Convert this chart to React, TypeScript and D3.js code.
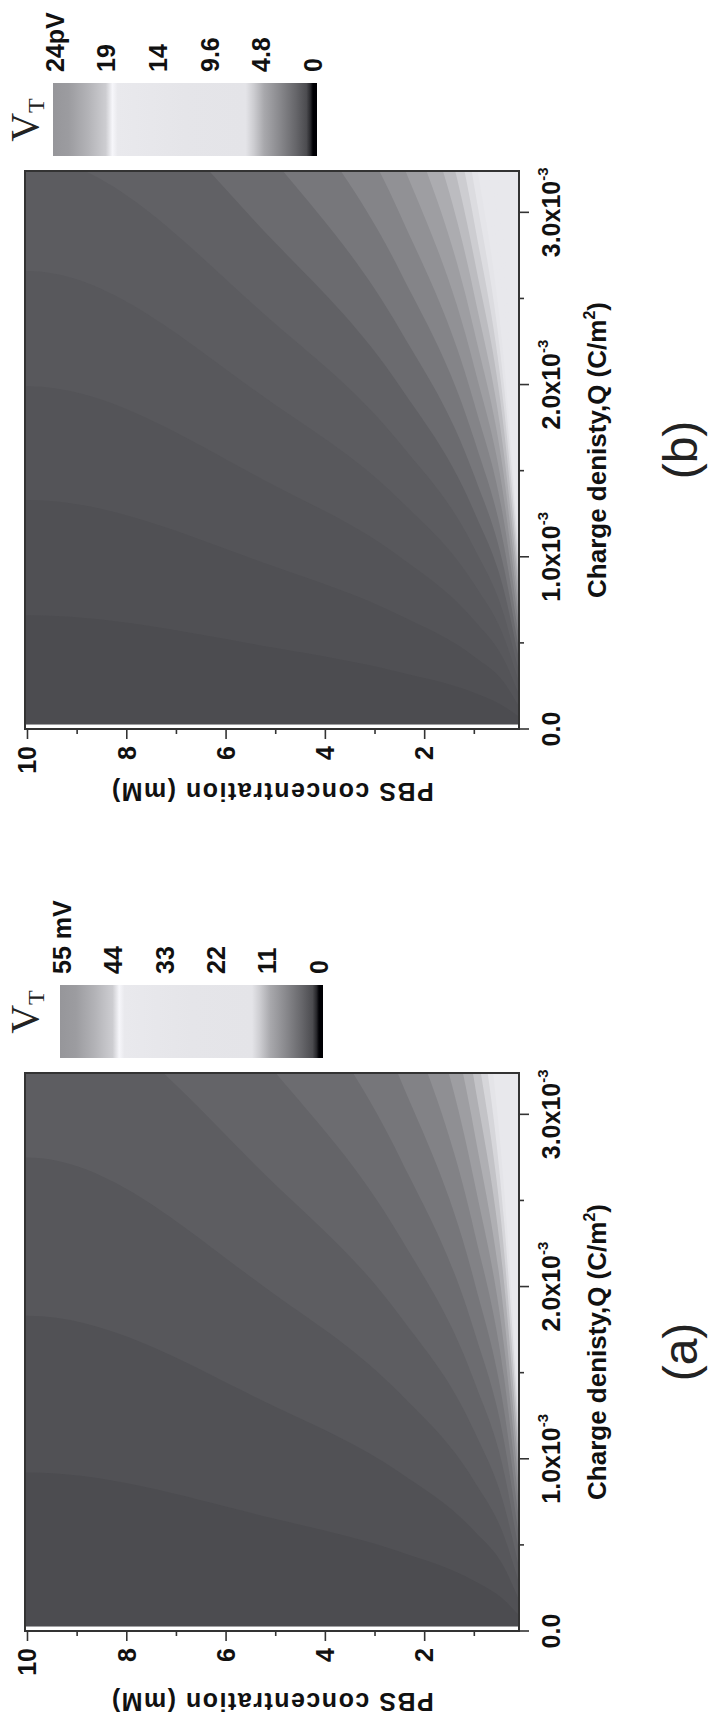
import * as d3 from "d3";

const pbsSamples = [0.1, 0.4, 1, 2.5, 5, 10];

// panel (a): charge density (x1e-3 C/m2) of each contour boundary at pbsSamples
const boundariesA = [
  [0.09, 0.18, 0.29, 0.46, 0.65, 0.92],
  [0.18, 0.37, 0.58, 0.92, 1.3, 1.83],
  [0.28, 0.55, 0.87, 1.38, 1.95, 2.75],
  [0.37, 0.73, 1.16, 1.83, 2.59, 3.67],
  [0.46, 0.92, 1.45, 2.29, 3.24, 4.59],
  [0.55, 1.1, 1.74, 2.75, 3.89, 5.5],
  [0.64, 1.28, 2.03, 3.21, 4.54, 6.42],
  [0.73, 1.47, 2.32, 3.67, 5.19, 7.34],
  [0.83, 1.65, 2.61, 4.13, 5.84, 8.25],
  [0.92, 1.83, 2.9, 4.59, 6.49, 9.17],
  [1.01, 2.02, 3.19, 5.04, 7.13, 10.09],
  [1.1, 2.2, 3.48, 5.5, 7.78, 11.0],
  [1.19, 2.38, 3.77, 5.96, 8.43, 11.92],
  [1.28, 2.57, 4.06, 6.42, 9.08, 12.84],
  [1.38, 2.75, 4.35, 6.88, 9.73, 13.76],
];

// panel (b): same reading, tighter contour spacing
const boundariesB = [
  [0.07, 0.13, 0.21, 0.33, 0.47, 0.66],
  [0.13, 0.27, 0.42, 0.66, 0.94, 1.33],
  [0.2, 0.4, 0.63, 1.0, 1.41, 1.99],
  [0.27, 0.53, 0.84, 1.33, 1.88, 2.66],
  [0.33, 0.66, 1.05, 1.66, 2.35, 3.32],
  [0.4, 0.8, 1.26, 1.99, 2.82, 3.98],
  [0.46, 0.93, 1.47, 2.32, 3.29, 4.65],
  [0.53, 1.06, 1.68, 2.66, 3.76, 5.31],
  [0.6, 1.2, 1.89, 2.99, 4.23, 5.98],
  [0.66, 1.33, 2.1, 3.32, 4.7, 6.64],
  [0.73, 1.46, 2.31, 3.65, 5.17, 7.31],
  [0.8, 1.59, 2.52, 3.98, 5.64, 7.97],
  [0.86, 1.73, 2.73, 4.32, 6.1, 8.63],
  [0.93, 1.86, 2.94, 4.65, 6.57, 9.3],
  [1.0, 1.99, 3.15, 4.98, 7.04, 9.96],
  [1.06, 2.13, 3.36, 5.31, 7.51, 10.63],
  [1.13, 2.26, 3.57, 5.64, 7.98, 11.29],
  [1.2, 2.39, 3.78, 5.98, 8.45, 11.95],
  [1.26, 2.52, 3.99, 6.31, 8.92, 12.62],
  [1.33, 2.66, 4.2, 6.64, 9.39, 13.28],
  [1.4, 2.79, 4.41, 6.97, 9.86, 13.95],
];

const xTicks = [0, 1, 2, 3];
const xMinorTicks = [0.5, 1.5, 2.5];
const yTicks = [2, 4, 6, 8, 10];
const yMinorTicks = [1, 3, 5, 7, 9];

const colorbarTicksA = [55, 44, 33, 22, 11, 0];
const colorbarLabelsA = ["55 mV", "44", "33", "22", "11", "0"];
const colorbarTicksB = [24, 19.2, 14.4, 9.6, 4.8, 0];
const colorbarLabelsB = ["24pV", "19", "14", "9.6", "4.8", "0"];

// grey level of each filled band, darkest first
const graysA = [76, 81, 87, 93, 100, 108, 118, 130, 143, 158, 175, 195, 214, 228, 232, 232];
const graysB = [76, 80, 84, 88, 92, 97, 107, 119, 132, 145, 158, 172, 188, 205, 220, 229, 232, 232, 232, 232, 232, 232];

// colorbar gradient, top to bottom
const cbStops: [number, number][] = [
  [0, 150], [0.06, 156], [0.13, 178], [0.2, 205], [0.225, 246], [0.245, 233],
  [0.5, 229], [0.73, 228], [0.76, 205], [0.8, 168], [0.86, 136], [0.92, 102],
  [0.96, 76], [0.975, 40], [0.985, 0], [1, 0],
];

const FW = 1724; // landscape figure, rotated onto the page
const FH = 715;
const PLOT_TOP = 25;
const PLOT_BOTTOM = 519;
const PLOT_W = 558;
const Q_MAX = 3.24;
const SANS = "'Liberation Sans', Arial, sans-serif";
const SERIF = "'Liberation Serif', 'Times New Roman', serif";
const INK = "#333";

const grey = (g: number) => `rgb(${g},${g},${Math.min(255, g + 4)})`;

interface PanelProps {
  id: string;
  x0: number;
  boundaries: number[][];
  grays: number[];
  cbX: number;
  cbY: number;
  cbH: number;
  cbTicks: number[];
  cbLabels: string[];
  vtX: number;
  yTitleOffset: number;
  label: string;
}

function Panel(p: PanelProps) {
  const x = d3.scaleLinear().domain([0, Q_MAX]).range([p.x0, p.x0 + PLOT_W]);
  const y = d3.scaleLinear().domain([0.1, 10.05]).range([PLOT_BOTTOM, PLOT_TOP]);

  const area = d3
    .area<[number, number]>()
    .curve(d3.curveMonotoneY)
    .y((d) => y(d[0]))
    .x0((d) => x(d[1]))
    .x1(x(Q_MAX) + 30);

  const cbW = 73;
  const cbScale = d3
    .scaleLinear()
    .domain([0, p.cbTicks[0]])
    .range([p.cbY + p.cbH - 4, p.cbY + 2]);

  const fillLeft = x(0.025);
  const cx = (x(0) + x(Q_MAX)) / 2;

  return (
    <g>
      <defs>
        <clipPath id={`clip-${p.id}`}>
          <rect x={fillLeft} y={PLOT_TOP} width={x(Q_MAX) - fillLeft} height={PLOT_BOTTOM - PLOT_TOP} />
        </clipPath>
        <linearGradient id={`cb-${p.id}`} x1="0" y1="0" x2="0" y2="1">
          {cbStops.map(([o, g], i) => (
            <stop key={i} offset={o} stopColor={grey(g)} />
          ))}
        </linearGradient>
      </defs>

      {/* contour bands */}
      <g clipPath={`url(#clip-${p.id})`}>
        <rect x={fillLeft} y={PLOT_TOP} width={x(Q_MAX) - fillLeft} height={PLOT_BOTTOM - PLOT_TOP} fill={grey(p.grays[0])} />
        {p.boundaries.map((b, i) => {
          const pts: [number, number][] = pbsSamples.map((c, j) => [c, b[j]]);
          pts.push([10.06, b[b.length - 1]]);
          return <path key={i} d={area(pts) || ""} fill={grey(p.grays[i + 1])} />;
        })}
      </g>

      {/* frame */}
      <rect x={x(0)} y={PLOT_TOP} width={PLOT_W} height={PLOT_BOTTOM - PLOT_TOP} fill="none" stroke={INK} strokeWidth={2} />

      {/* x axis */}
      {xTicks.map((t) => (
        <line key={`xt${t}`} x1={x(t)} x2={x(t)} y1={PLOT_BOTTOM} y2={PLOT_BOTTOM + 10} stroke={INK} strokeWidth={1.6} />
      ))}
      {xMinorTicks.map((t) => (
        <line key={`xm${t}`} x1={x(t)} x2={x(t)} y1={PLOT_BOTTOM} y2={PLOT_BOTTOM + 5} stroke={INK} strokeWidth={1.6} />
      ))}
      {xTicks.map((t) => (
        <text key={`xl${t}`} x={x(t)} y={560} textAnchor="middle" fontFamily={SANS} fontWeight="bold" fontSize={25} fill="#111">
          {t === 0 ? (
            "0.0"
          ) : (
            <>
              <tspan>{`${t.toFixed(1)}x10`}</tspan>
              <tspan dy={-12} fontSize={15}>-3</tspan>
            </>
          )}
        </text>
      ))}
      <text x={cx} y={606} textAnchor="middle" fontFamily={SANS} fontWeight="bold" fontSize={26} fill="#111">
        Charge denisty,Q (C/m<tspan dy={-11} fontSize={16}>2</tspan>
        <tspan dy={11}>)</tspan>
      </text>

      {/* y axis */}
      {yTicks.map((t) => (
        <line key={`yt${t}`} x1={x(0)} x2={x(0) - 10} y1={y(t)} y2={y(t)} stroke={INK} strokeWidth={1.6} />
      ))}
      {yMinorTicks.map((t) => (
        <line key={`ym${t}`} x1={x(0)} x2={x(0) - 5} y1={y(t)} y2={y(t)} stroke={INK} strokeWidth={1.6} />
      ))}
      {yTicks.map((t) => (
        <text key={`yl${t}`} x={x(0) - 17} y={y(t)} dy="0.35em" textAnchor="end" fontFamily={SANS} fontWeight="bold" fontSize={25} fill="#111">
          {t}
        </text>
      ))}
      <text
        transform={`translate(${x(0) - p.yTitleOffset},${(PLOT_TOP + PLOT_BOTTOM) / 2}) rotate(-90)`}
        textAnchor="middle"
        fontFamily={SANS}
        fontWeight="bold"
        fontSize={25}
        letterSpacing={1.5}
        fill="#111"
      >
        PBS concentration (mM)
      </text>

      {/* colorbar */}
      <rect x={p.cbX} y={p.cbY} width={cbW} height={p.cbH} fill={`url(#cb-${p.id})`} />
      {p.cbTicks.map((t, i) => (
        <text key={`cb${i}`} x={p.cbX + cbW + 11} y={cbScale(t)} dy="0.35em" fontFamily={SANS} fontWeight="bold" fontSize={25} fill="#111">
          {p.cbLabels[i]}
        </text>
      ))}
      <text x={p.vtX} y={38} textAnchor="middle" fontFamily={SERIF} fontSize={40} fill="#222">
        V<tspan dy={6} fontSize={24}>T</tspan>
      </text>

      <text x={cx} y={697} textAnchor="middle" fontFamily={SANS} fontSize={48} fill="#222">
        {p.label}
      </text>
    </g>
  );
}

export default function App() {
  return (
    <svg
      width={FH}
      height={FW}
      style={{ position: "absolute", left: 0, top: 0, display: "block", background: "white" }}
    >
      <rect width={FH} height={FW} fill="white" />
      <g transform={`translate(0,${FW}) rotate(-90)`}>
        <Panel
          id="a"
          x0={93}
          boundaries={boundariesA}
          grays={graysA}
          cbX={666}
          cbY={60}
          cbH={263}
          cbTicks={colorbarTicksA}
          cbLabels={colorbarLabelsA}
          vtX={712}
          yTitleOffset={62}
          label="(a)"
        />
        <Panel
          id="b"
          x0={995}
          boundaries={boundariesB}
          grays={graysB}
          cbX={1568}
          cbY={53}
          cbH={264}
          cbTicks={colorbarTicksB}
          cbLabels={colorbarLabelsB}
          vtX={1604}
          yTitleOffset={54}
          label="(b)"
        />
      </g>
    </svg>
  );
}
